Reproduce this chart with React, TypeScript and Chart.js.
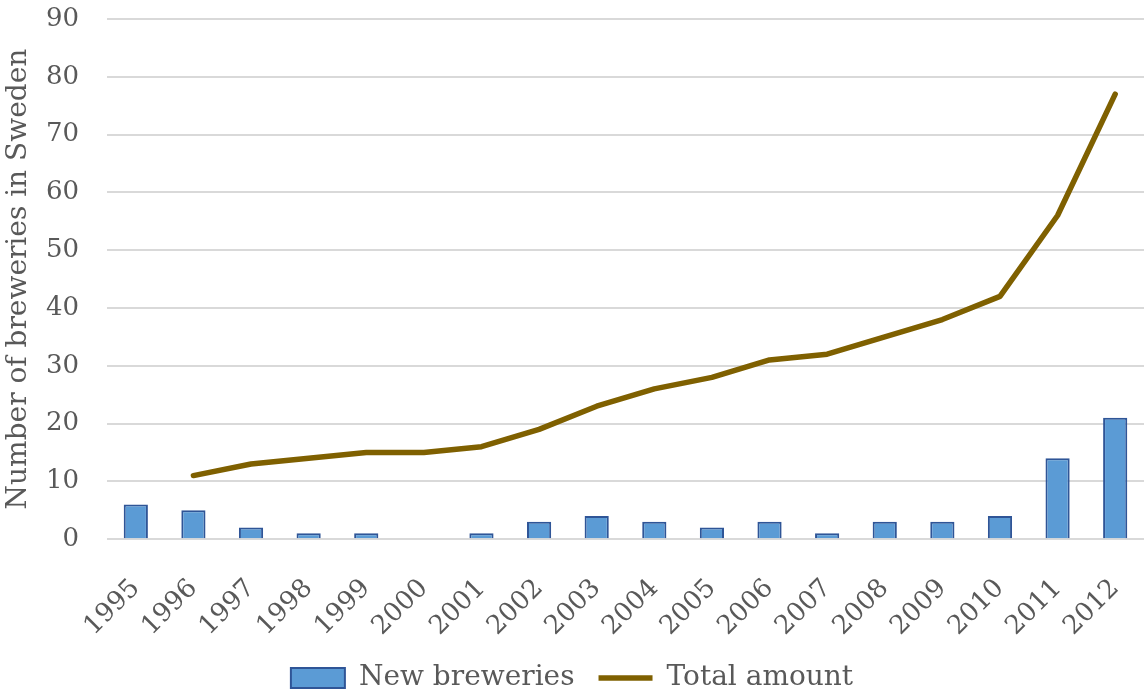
import React, { useEffect, useRef } from "react";
import { Chart, registerables } from "chart.js";

Chart.register(...registerables);

const years = ["1995","1996","1997","1998","1999","2000","2001","2002","2003","2004","2005","2006","2007","2008","2009","2010","2011","2012"];
const newBreweries = [6,5,2,1,1,0,1,3,4,3,2,3,1,3,3,4,14,21];
const totalAmount = [null,11,13,14,15,15,16,19,23,26,28,31,32,35,38,42,56,77];
const yTicks = [0,10,20,30,40,50,60,70,80,90];

const FONT = "'DejaVu Serif', serif";
const TEXT = "#595959";

export default function App() {
  const ref = useRef<HTMLCanvasElement | null>(null);
  useEffect(() => {
    document.body.style.margin = "0";
    const chart = new Chart(ref.current!, {
      type: "bar",
      data: {
        labels: years,
        datasets: [
          {
            type: "bar",
            label: "New breweries",
            data: newBreweries,
            backgroundColor: "#5B9BD5",
            borderColor: "#2F5597",
            borderWidth: 2,
            barPercentage: 0.42,
            categoryPercentage: 1,
            pointStyle: "rect",
            order: 2,
          },
          {
            type: "line",
            label: "Total amount",
            data: totalAmount as any,
            borderColor: "#7F6000",
            backgroundColor: "#7F6000",
            borderWidth: 5.5,
            pointRadius: 0,
            pointStyle: "line",
            tension: 0,
            borderCapStyle: "round",
            borderJoinStyle: "round",
            order: 1,
          },
        ],
      },
      options: {
        animation: false,
        responsive: true,
        maintainAspectRatio: false,
        layout: { padding: { top: 0, right: 0, left: 0, bottom: -9 } },
        scales: {
          x: {
            grid: { display: false },
            border: { display: false },
            ticks: {
              color: TEXT,
              font: { family: FONT, size: 26 },
              maxRotation: 45,
              minRotation: 45,
              padding: 26,
            },
            afterFit: (s: any) => {
              s.height -= 28;
              s.paddingLeft = 0;
              s.paddingRight = 0;
            },
          },
          y: {
            min: 0,
            max: 90,
            afterBuildTicks: (axis: any) => {
              axis.ticks = yTicks.map((v) => ({ value: v }));
            },
            afterFit: (s: any) => {
              s.width = 107;
              s.paddingTop = 19;
              s.paddingBottom = 0;
            },
            grid: { color: "#D9D9D9", lineWidth: 2, drawTicks: false },
            border: { display: false },
            ticks: {
              color: TEXT,
              font: { family: FONT, size: 26 },
              padding: 28,
            },
            title: {
              display: true,
              text: "Number of breweries in Sweden",
              color: TEXT,
              font: { family: FONT, size: 28 },
              padding: { top: 2, bottom: 0 },
            },
          },
        },
        plugins: {
          legend: {
            position: "bottom",
            labels: {
              color: TEXT,
              font: { family: FONT, size: 28 },
              usePointStyle: true,
              pointStyleWidth: 54,
              boxHeight: 20,
              padding: 24,
              sort: (a: any, b: any) => a.datasetIndex - b.datasetIndex,
            },
          },
          tooltip: { enabled: false },
        },
      },
    });
    return () => chart.destroy();
  }, []);
  return (
    <div style={{ position: "fixed", left: 0, top: 0, width: 1144, height: 693 }}>
      <canvas ref={ref} />
    </div>
  );
}
